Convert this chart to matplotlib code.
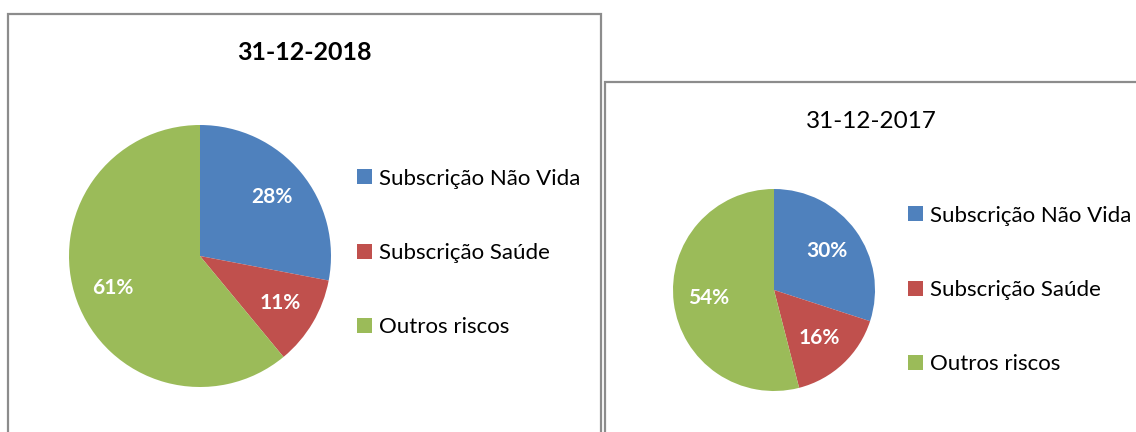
import matplotlib
matplotlib.use("Agg")
import matplotlib.pyplot as plt
from matplotlib.patches import Rectangle

categories = ["Subscrição Não Vida", "Subscrição Saúde", "Outros riscos"]
share_2018 = [28, 11, 61]
share_2017 = [30, 16, 54]
titles = ["31-12-2018", "31-12-2017"]
colors = ["#4f81bd", "#c0504d", "#9bbb59"]

W, H = 1136, 432
plt.rcParams['font.family'] = ['Lato', 'DejaVu Sans']

fig = plt.figure(figsize=(W / 100, H / 100), dpi=100)


def px_box(x0, y0, x1, y1):
    # pixel box (top-left origin) -> figure fraction rect
    return [x0 / W, 1 - y1 / H, (x1 - x0) / W, (y1 - y0) / H]


def pixel_xy(x, y):
    return (x / W, 1 - y / H)


# chart frames
for (x0, y0, x1, y1) in [(8, 14, 601, 440), (605, 82, 1140, 440)]:
    r = Rectangle(pixel_xy(x0, y1), (x1 - x0) / W, (y1 - y0) / H,
                  transform=fig.transFigure, fill=False,
                  edgecolor="#8c8c8c", linewidth=1.6)
    fig.patches.append(r)


def draw_pie(values, cx, cy, rad, pctd, title, tx, ty, bold, tsize,
             lx, ly, lspacing):
    ax = fig.add_axes(px_box(cx - rad, cy - rad, cx + rad, cy + rad))
    wedges, _, autotexts = ax.pie(values, colors=colors, startangle=90,
                                  counterclock=False, autopct='%d%%',
                                  pctdistance=pctd,
                                  textprops=dict(color="white",
                                                 fontweight="bold",
                                                 fontsize=15))
    ax.set_xlim(-1, 1)
    ax.set_ylim(-1, 1)
    ax.set_aspect('equal')
    fig.text(*pixel_xy(tx, ty), title, ha='center', va='center',
             fontsize=tsize, fontweight='bold' if bold else 'normal')
    fig.legend(wedges, categories, loc='center left',
               bbox_to_anchor=pixel_xy(lx, ly), frameon=False,
               fontsize=16, handlelength=0.68, handleheight=0.68,
               handletextpad=0.3, labelspacing=lspacing,
               borderpad=0, borderaxespad=0)


draw_pie(share_2018, 200, 256, 131, 0.71, titles[0], 304, 52, True, 18,
         357, 253, 2.45)
draw_pie(share_2017, 774, 290, 101, 0.65, titles[1], 871, 122, False, 17.5,
         908, 290, 2.45)

fig.savefig("out.png", dpi=100)
